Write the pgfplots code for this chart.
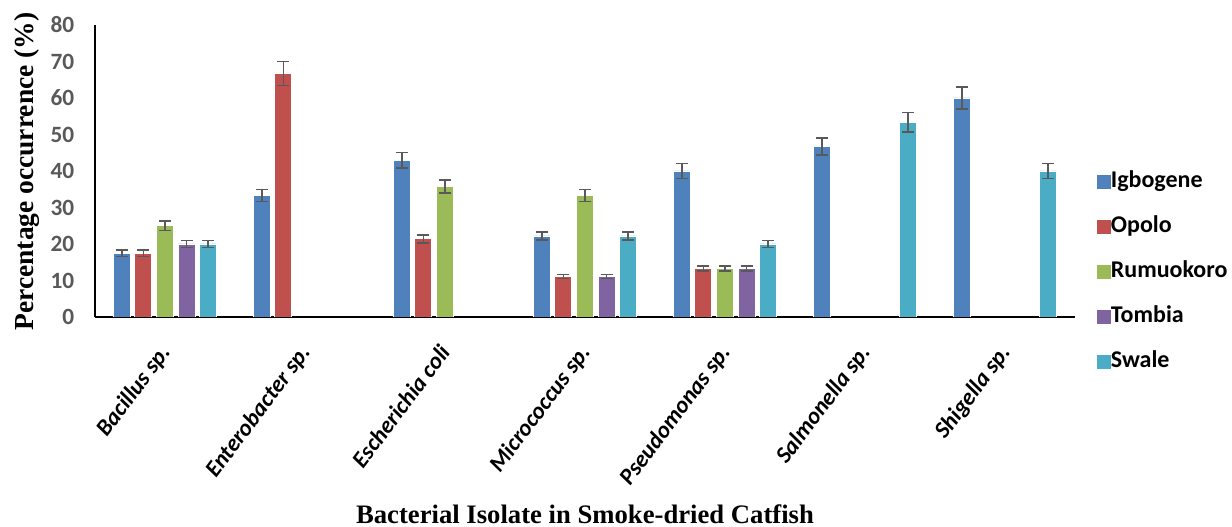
\documentclass[border=0pt]{standalone}
\usepackage{fontspec}
\setmainfont{Liberation Serif}
\newfontfamily\carlito{Carlito}
\usepackage{pgfplots}
\pgfplotsset{compat=1.18}
\definecolor{cIg}{HTML}{4F81BD}
\definecolor{cOp}{HTML}{C0504D}
\definecolor{cRu}{HTML}{9BBB59}
\definecolor{cTo}{HTML}{8064A2}
\definecolor{cSw}{HTML}{4BACC6}
\definecolor{tgrey}{HTML}{595959}
\begin{document}
\begin{tikzpicture}
\path[use as bounding box] (0,0) rectangle (924pt,395.25pt);
\begin{axis}[
  at={(71.25pt,157.5pt)}, anchor=south west,
  scale only axis, width=735pt, height=219pt,
  ybar=3.45pt, bar width=12.75pt,
  xmin=-0.5, xmax=6.5, ymin=0, ymax=80,
  axis lines=left, axis line style={black, line width=1.6pt, -},
  x axis line style={line width=2.2pt},
  xtick={0,1,2,3,4,5,6},
  xticklabels={Bacillus sp., Enterobacter sp., Escherichia coli, Micrococcus sp., Pseudomonas sp., Salmonella sp., Shigella sp.},
  ytick={0,10,...,80},
  major tick length=0pt,
  /pgf/number format/assume math mode=true,
  yticklabel style={font=\carlito\bfseries\fontsize{17.5}{20}\selectfont, text=tgrey, anchor=east, xshift=-12pt},
  xticklabel style={font=\carlito\bfseries\itshape\fontsize{17.5}{21}\selectfont, text=black, xshift=-5.25pt, yshift=-19pt, rotate=53, anchor=north east, inner sep=0pt},
  error bars/error bar style={draw=tgrey, line width=1.1pt},
  error bars/error mark options={rotate=90, mark size=4.5pt, draw=tgrey, line width=1.1pt},
  legend image code/.code={\fill[#1,draw=none] (0pt,-5.25pt) rectangle (10.5pt,5.25pt);},
  legend style={draw=none, fill=none, at={(1.018,0.507)}, anchor=north west,
    font=\carlito\bfseries\fontsize{18}{21}\selectfont, row sep=18.75pt,
    nodes={text height=12pt, text depth=3pt, inner sep=0pt}},
  legend cell align=left,
]
\addplot[fill=cIg, draw=white, line width=0.6pt, error bars/.cd, y dir=both, y explicit] coordinates {(0,17.5)+-(0,0.875) (1,33.3)+-(0,1.67) (2,42.9)+-(0,2.14) (3,22.2)+-(0,1.11) (4,40)+-(0,2) (5,46.7)+-(0,2.33) (6,60)+-(0,3)};
\addplot[fill=cOp, draw=white, line width=0.6pt, error bars/.cd, y dir=both, y explicit] coordinates {(0,17.5)+-(0,0.875) (1,66.7)+-(0,3.33) (2,21.4)+-(0,1.07) (3,11.1)+-(0,0.56) (4,13.3)+-(0,0.67)};
\addplot[fill=cRu, draw=white, line width=0.6pt, error bars/.cd, y dir=both, y explicit] coordinates {(0,25)+-(0,1.25) (2,35.7)+-(0,1.79) (3,33.3)+-(0,1.67) (4,13.3)+-(0,0.67)};
\addplot[fill=cTo, draw=white, line width=0.6pt, error bars/.cd, y dir=both, y explicit] coordinates {(0,20)+-(0,1) (3,11.1)+-(0,0.56) (4,13.3)+-(0,0.67)};
\addplot[fill=cSw, draw=white, line width=0.6pt, error bars/.cd, y dir=both, y explicit] coordinates {(0,20)+-(0,1) (3,22.2)+-(0,1.11) (4,20)+-(0,1) (5,53.3)+-(0,2.67) (6,40)+-(0,2)};
\legend{Igbogene, Opolo, Rumuokoro, Tombia, Swale}
\end{axis}
\node[rotate=90, font=\bfseries\fontsize{20.6}{24}\selectfont] at (20.25pt,266.6pt) {Percentage occurrence (\%)};
\node[font=\bfseries\fontsize{20}{24}\selectfont] at (438.75pt,9.5pt) {Bacterial Isolate in Smoke-dried Catfish};
\end{tikzpicture}
\end{document}
